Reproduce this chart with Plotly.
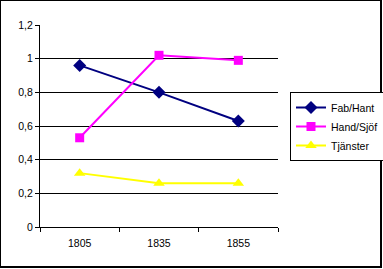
import plotly.graph_objects as go

years = ["1805", "1835", "1855"]
fab_hant = [0.96, 0.80, 0.63]
hand_sjof = [0.53, 1.02, 0.99]
tjanster = [0.32, 0.26, 0.26]

W, H = 383, 269
L, R, T, B = 40, 278, 25, 227

def px(x):
    return (x - L) / (R - L)

def py(y):
    return (B - y) / (B - T)

fig = go.Figure()
fig.add_trace(go.Scatter(x=years, y=fab_hant, name="Fab/Hant", mode="lines+markers",
                         line=dict(color="#000080", width=2),
                         marker=dict(symbol="diamond", size=10, color="#000080")))
fig.add_trace(go.Scatter(x=years, y=hand_sjof, name="Hand/Sjöf", mode="lines+markers",
                         line=dict(color="#FF00FF", width=2),
                         marker=dict(symbol="square", size=9, color="#FF00FF")))
fig.add_trace(go.Scatter(x=years, y=tjanster, name="Tjänster", mode="lines+markers",
                         line=dict(color="#FFFF00", width=2),
                         marker=dict(symbol="triangle-up", size=10, color="#FFFF00")))

shapes = [
    dict(type="line", xref="paper", yref="paper", x0=px(0.5), x1=px(0.5), y0=py(0), y1=py(267), line=dict(color="black", width=1)),
    dict(type="line", xref="paper", yref="paper", x0=px(0), x1=px(382), y0=py(0.5), y1=py(0.5), line=dict(color="black", width=1)),
    dict(type="line", xref="paper", yref="paper", x0=px(381), x1=px(381), y0=py(0), y1=py(268), line=dict(color="black", width=2)),
    dict(type="line", xref="paper", yref="paper", x0=px(0), x1=px(382), y0=py(267), y1=py(267), line=dict(color="black", width=2)),
]

fig.update_layout(
    width=W, height=H,
    margin=dict(l=L, r=W - R, t=T, b=H - B, autoexpand=False),
    paper_bgcolor="white", plot_bgcolor="white",
    separators=", ",
    font=dict(family="Liberation Sans, Arial, sans-serif", size=10.5, color="black"),
    showlegend=True,
    legend=dict(x=px(290), y=py(92), xanchor="left", yanchor="top",
                bordercolor="black", borderwidth=1, bgcolor="white",
                font=dict(size=10.5), itemwidth=30, tracegroupgap=0),
    xaxis=dict(type="category", range=[-0.5, 2.5], showline=True, linecolor="black", linewidth=1,
               ticks="outside", tickson="boundaries", ticklen=4, tickcolor="black",
               ticklabelstandoff=6,
               showgrid=False, zeroline=False, fixedrange=True),
    yaxis=dict(range=[0, 1.2], tickvals=[0, 0.2, 0.4, 0.6, 0.8, 1.0, 1.2],
               showline=True, linecolor="black", linewidth=1,
               ticks="outside", ticklen=4, tickcolor="black",
               showgrid=True, gridcolor="black", gridwidth=1, zeroline=False),
    shapes=shapes,
)

fig.write_html("out.html")
